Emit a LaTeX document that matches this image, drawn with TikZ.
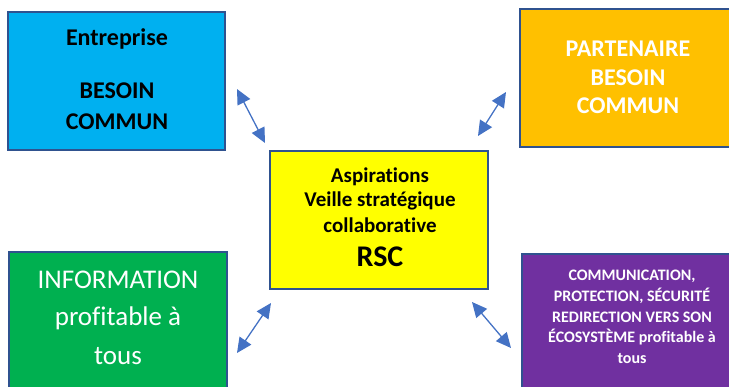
\documentclass[tikz,border=0pt]{standalone}
\usepackage{fontspec}
\setmainfont{Carlito}[Ligatures={NoCommon,NoRare,NoContextual}]
\usetikzlibrary{arrows.meta}
\definecolor{boxblue}{HTML}{00B0F0}
\definecolor{boxorange}{HTML}{FFC000}
\definecolor{boxyellow}{HTML}{FFFF00}
\definecolor{boxgreen}{HTML}{00B050}
\definecolor{boxpurple}{HTML}{7030A0}
\definecolor{rim}{HTML}{2F528F}
\definecolor{arrowblue}{HTML}{4472C4}
\tikzset{
  panel/.style={draw=rim, line width=2pt},
  txt/.style={anchor=base, inner sep=0pt},
  link/.style={draw=arrowblue, line width=1.3pt,
    {Triangle[length=15pt,width=14pt]}-{Triangle[length=15pt,width=14pt]}}
}
\begin{document}
\begin{tikzpicture}[x=1pt,y=-1pt]
\useasboundingbox (0,0) rectangle (729,387);
% boxes
\filldraw[panel, fill=boxblue] (8,12) rectangle (225,150);
\filldraw[panel, fill=boxorange] (520,9) rectangle (738,147);
\filldraw[panel, fill=boxyellow] (270,151) rectangle (488,289);
\filldraw[panel, fill=boxgreen] (9,252) rectangle (227,395);
\filldraw[panel, fill=boxpurple] (522,254) rectangle (740,395);
% blue text
\node[txt, font=\fontsize{24}{28}\selectfont\bfseries] (e1) at (117,46) {Entreprise};
\node[txt, font=\fontsize{24}{28}\selectfont\bfseries] (e2) at (117,99) {BESOIN};
\node[txt, font=\fontsize{24}{28}\selectfont\bfseries] (e3) at (117,130) {COMMUN};
% orange text
\node[txt, text=white, font=\fontsize{24}{28}\selectfont\bfseries] (p1) at (628,57) {PARTENAIRE};
\node[txt, text=white, font=\fontsize{24}{28}\selectfont\bfseries] (p2) at (628,85.5) {BESOIN};
\node[txt, text=white, font=\fontsize{24}{28}\selectfont\bfseries] (p3) at (628,113.5) {COMMUN};
% yellow text
\node[txt, font=\fontsize{21}{25}\selectfont\bfseries] (y1) at (380,182.5) {Aspirations};
\node[txt, font=\fontsize{21}{25}\selectfont\bfseries] (y2) at (380,207) {Veille stratégique};
\node[txt, font=\fontsize{21}{25}\selectfont\bfseries] (y3) at (380,232.5) {collaborative};
\node[txt, font=\fontsize{30}{34}\selectfont\bfseries] (y4) at (380,267) {RSC};
% green text
\node[txt, text=white, font=\fontsize{27}{31}\selectfont] (g1) at (118,288.5) {INFORMATION};
\node[txt, text=white, font=\fontsize{27}{31}\selectfont] (g2) at (118,325.5) {profitable à};
\node[txt, text=white, font=\fontsize{27}{31}\selectfont] (g3) at (118,365) {tous};
% purple text
\node[txt, text=white, font=\fontsize{16}{19}\selectfont\bfseries] (v1) at (632,280.5) {COMMUNICATION,};
\node[txt, text=white, font=\fontsize{16}{19}\selectfont\bfseries] (v2) at (632,302) {PROTECTION, SÉCURITÉ};
\node[txt, text=white, font=\fontsize{16}{19}\selectfont\bfseries] (v3) at (632,322.5) {REDIRECTION VERS SON};
\node[txt, text=white, font=\fontsize{16}{19}\selectfont\bfseries] (v4) at (632,343) {ÉCOSYSTÈME profitable à};
\node[txt, text=white, font=\fontsize{16}{19}\selectfont\bfseries] (v5) at (632,364) {tous};
% arrow ends
\coordinate (a1s) at (237,89);
\coordinate (a1e) at (265,143);
\coordinate (a2s) at (506,92);
\coordinate (a2e) at (478,136);
\coordinate (a3s) at (271,303);
\coordinate (a3e) at (237,353);
\coordinate (a4s) at (472,302);
\coordinate (a4e) at (511,348);
\draw[link] (a1s) -- (a1e);
\draw[link] (a2s) -- (a2e);
\draw[link] (a3s) -- (a3e);
\draw[link] (a4s) -- (a4e);
\end{tikzpicture}
\end{document}
